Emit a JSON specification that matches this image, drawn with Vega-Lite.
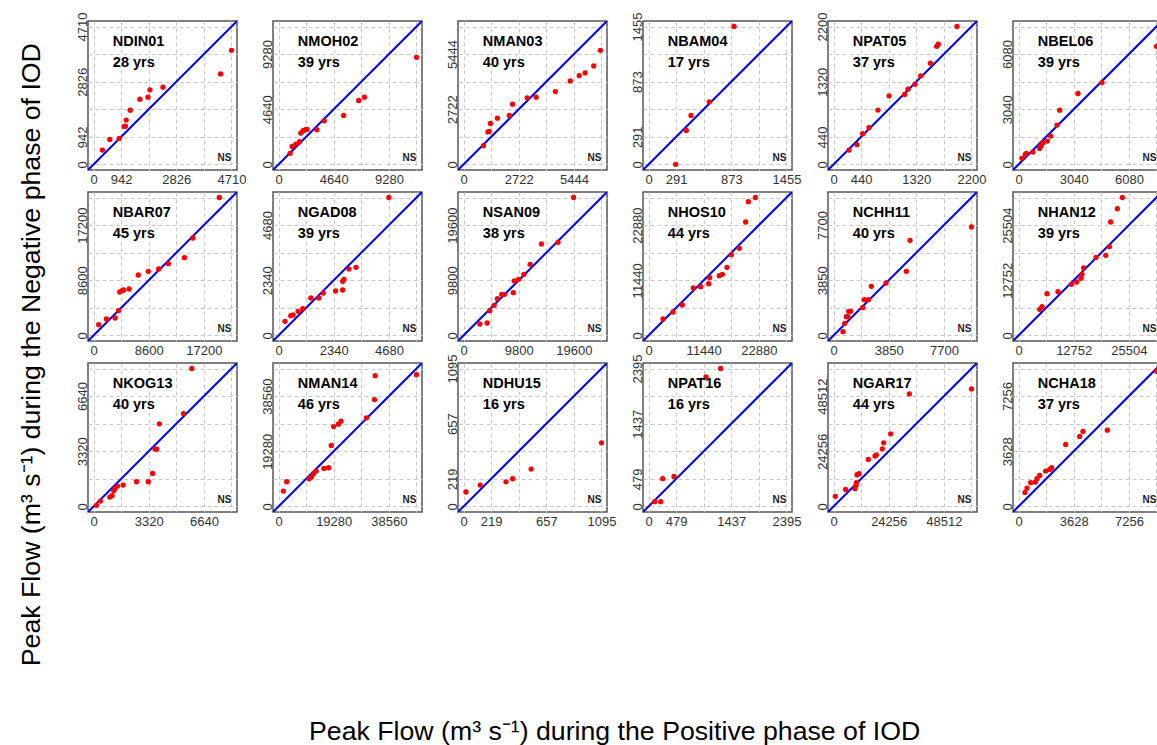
{
  "$schema": "https://vega.github.io/schema/vega-lite/v6.json",
  "padding": {"left": 18, "top": 11, "right": 0, "bottom": 0},
  "background": "white",
  "config": {
    "font": "Liberation Sans",
    "view": {"stroke": "#555555", "strokeWidth": 1.5},
    "axis": {
      "domain": false, "ticks": false,
      "gridColor": "#c8c8c8", "gridDash": [4, 3], "gridWidth": 1,
      "labelFont": "Liberation Sans", "labelFontSize": 13, "labelColor": "#333333",
      "labelPadding": 3, "labelFlush": false, "labelOverlap": false, "labelBound": false,
      "format": "d", "title": null
    },
    "axisY": {"labelAngle": -90, "labelAlign": "center", "labelBaseline": "alphabetic", "labelPadding": 2},
    "title": {"font": "Liberation Sans", "fontWeight": "normal", "fontSize": 26.7, "color": "#000000"}
  },
  "datasets": {
    "NDIN01": [{"pos":304,"neg":493},{"pos":555,"neg":856},{"pos":875,"neg":890},{"pos":1046,"neg":1299},{"pos":1090,"neg":1305},{"pos":1115,"neg":1515},{"pos":1252,"neg":1855},{"pos":1583,"neg":2230},{"pos":1858,"neg":2298},{"pos":1926,"neg":2548},{"pos":2372,"neg":2639},{"pos":4338,"neg":3093},{"pos":4710,"neg":3899}],
    "NMOH02": [{"pos":972,"neg":934},{"pos":1141,"neg":1521},{"pos":1450,"neg":1717},{"pos":1760,"neg":1913},{"pos":1872,"neg":2640},{"pos":2070,"neg":2835},{"pos":2267,"neg":2919},{"pos":2407,"neg":2947},{"pos":3224,"neg":2919},{"pos":3843,"neg":3674},{"pos":5476,"neg":4121},{"pos":6742,"neg":5380},{"pos":7221,"neg":5659},{"pos":11600,"neg":9014}],
    "NMAN03": [{"pos":985,"neg":925},{"pos":1198,"neg":1598},{"pos":1263,"neg":1630},{"pos":1328,"neg":2024},{"pos":1671,"neg":2286},{"pos":2259,"neg":2418},{"pos":2422,"neg":2975},{"pos":3141,"neg":3287},{"pos":3582,"neg":3320},{"pos":4529,"neg":3598},{"pos":5264,"neg":4123},{"pos":5705,"neg":4386},{"pos":5999,"neg":4517},{"pos":6423,"neg":4861},{"pos":6750,"neg":5632}],
    "NBAM04": [{"pos":286,"neg":2},{"pos":399,"neg":359},{"pos":448,"neg":517},{"pos":641,"neg":661},{"pos":902,"neg":1455}],
    "NPAT05": [{"pos":247,"neg":230},{"pos":374,"neg":315},{"pos":465,"neg":490},{"pos":566,"neg":586},{"pos":709,"neg":867},{"pos":885,"neg":1095},{"pos":1134,"neg":1116},{"pos":1188,"neg":1201},{"pos":1299,"neg":1280},{"pos":1390,"neg":1413},{"pos":1544,"neg":1615},{"pos":1645,"neg":1885},{"pos":1671,"neg":1917},{"pos":1969,"neg":2200}],
    "NBEL06": [{"pos":192,"neg":337},{"pos":375,"neg":557},{"pos":430,"neg":612},{"pos":798,"neg":685},{"pos":1165,"neg":887},{"pos":1202,"neg":978},{"pos":1275,"neg":1107},{"pos":1348,"neg":1217},{"pos":1587,"neg":1290},{"pos":1771,"neg":1565},{"pos":2120,"neg":2169},{"pos":2266,"neg":2994},{"pos":3276,"neg":3910},{"pos":4598,"neg":4514},{"pos":7600,"neg":6511}],
    "NBAR07": [{"pos":810,"neg":1686},{"pos":2010,"neg":2569},{"pos":3367,"neg":2725},{"pos":3888,"neg":3867},{"pos":4097,"neg":6777},{"pos":4515,"neg":7036},{"pos":4724,"neg":7088},{"pos":5558,"neg":7244},{"pos":6967,"neg":9426},{"pos":8532,"neg":9998},{"pos":10150,"neg":10361},{"pos":11663,"neg":11192},{"pos":14168,"neg":12128},{"pos":15472,"neg":15193},{"pos":19595,"neg":21500}],
    "NGAD08": [{"pos":277,"neg":600},{"pos":519,"neg":840},{"pos":618,"neg":868},{"pos":831,"neg":1024},{"pos":1030,"neg":1137},{"pos":1371,"neg":1589},{"pos":1711,"neg":1589},{"pos":1896,"neg":1801},{"pos":2421,"neg":1886},{"pos":2720,"neg":1928},{"pos":2720,"neg":2295},{"pos":2776,"neg":2380},{"pos":2989,"neg":2818},{"pos":3288,"neg":2889},{"pos":4679,"neg":5850}],
    "NSAN09": [{"pos":2901,"neg":2039},{"pos":4194,"neg":2216},{"pos":4665,"neg":4406},{"pos":5429,"neg":5353},{"pos":6017,"neg":6537},{"pos":6782,"neg":7307},{"pos":7252,"neg":7307},{"pos":8840,"neg":7603},{"pos":9016,"neg":9674},{"pos":9780,"neg":9970},{"pos":10721,"neg":10858},{"pos":11838,"neg":12634},{"pos":13838,"neg":16244},{"pos":16778,"neg":16540},{"pos":19541,"neg":24500}],
    "NHOS10": [{"pos":3002,"neg":3417},{"pos":5075,"neg":4868},{"pos":7010,"neg":6319},{"pos":9290,"neg":9843},{"pos":10810,"neg":10119},{"pos":12469,"neg":10741},{"pos":12676,"neg":11985},{"pos":14680,"neg":12400},{"pos":15302,"neg":12676},{"pos":16269,"neg":14127},{"pos":17168,"neg":16753},{"pos":18826,"neg":18066},{"pos":20139,"neg":23525},{"pos":20692,"neg":27740},{"pos":22143,"neg":28600}],
    "NCHH11": [{"pos":662,"neg":266},{"pos":778,"neg":848},{"pos":894,"neg":1313},{"pos":1011,"neg":1313},{"pos":1057,"neg":1685},{"pos":1197,"neg":1685},{"pos":2034,"neg":1941},{"pos":2150,"neg":2499},{"pos":2429,"neg":2499},{"pos":2639,"neg":3430},{"pos":3662,"neg":3662},{"pos":5081,"neg":4476},{"pos":5337,"neg":6640},{"pos":9625,"neg":7570}],
    "NHAN12": [{"pos":4887,"neg":6043},{"pos":5427,"neg":6659},{"pos":6582,"neg":9663},{"pos":9124,"neg":10125},{"pos":12205,"neg":11820},{"pos":13438,"neg":12359},{"pos":14439,"neg":13207},{"pos":14670,"neg":14131},{"pos":15055,"neg":15595},{"pos":17905,"neg":18060},{"pos":20139,"neg":18522},{"pos":20987,"neg":20524},{"pos":21295,"neg":26225},{"pos":22835,"neg":29306},{"pos":23991,"neg":31880}],
    "NKOG13": [{"pos":172,"neg":68},{"pos":413,"neg":328},{"pos":977,"neg":568},{"pos":1118,"neg":648},{"pos":1219,"neg":949},{"pos":1279,"neg":1069},{"pos":1440,"neg":1229},{"pos":1783,"neg":1289},{"pos":2588,"neg":1489},{"pos":3293,"neg":1489},{"pos":3555,"neg":1989},{"pos":3696,"neg":3470},{"pos":3797,"neg":3450},{"pos":3958,"neg":4971},{"pos":5408,"neg":5591},{"pos":5911,"neg":8300}],
    "NMAN14": [{"pos":1698,"neg":5393},{"pos":2868,"neg":8646},{"pos":10706,"neg":9692},{"pos":11525,"neg":10273},{"pos":12227,"neg":11435},{"pos":13162,"neg":12365},{"pos":15853,"neg":13294},{"pos":17491,"neg":13527},{"pos":18427,"neg":21312},{"pos":19245,"neg":27935},{"pos":20883,"neg":28749},{"pos":21819,"neg":29795},{"pos":30709,"neg":30957},{"pos":33517,"neg":37348},{"pos":33751,"neg":45714},{"pos":48200,"neg":46063}],
    "NDHU15": [{"pos":19,"neg":115},{"pos":132,"neg":170},{"pos":337,"neg":196},{"pos":390,"neg":220},{"pos":537,"neg":297},{"pos":1095,"neg":505}],
    "NPAT16": [{"pos":107,"neg":83},{"pos":211,"neg":83},{"pos":246,"neg":482},{"pos":442,"neg":522},{"pos":998,"neg":2248},{"pos":1252,"neg":2395}],
    "NGAR17": [{"pos":797,"neg":4445},{"pos":5339,"neg":7516},{"pos":9441,"neg":7808},{"pos":9900,"neg":9200},{"pos":10027,"neg":10440},{"pos":10320,"neg":13948},{"pos":11199,"neg":14387},{"pos":15301,"neg":20674},{"pos":18231,"neg":22136},{"pos":18817,"neg":22720},{"pos":21454,"neg":25352},{"pos":22040,"neg":27984},{"pos":25116,"neg":31931},{"pos":33320,"neg":49475},{"pos":60640,"neg":51668}],
    "NCHA18": [{"pos":426,"neg":927},{"pos":557,"neg":1212},{"pos":798,"neg":1562},{"pos":1105,"neg":1605},{"pos":1215,"neg":1824},{"pos":1390,"neg":2043},{"pos":1784,"neg":2327},{"pos":2047,"neg":2436},{"pos":2179,"neg":2546},{"pos":3099,"neg":4077},{"pos":4019,"neg":4601},{"pos":4238,"neg":4930},{"pos":5838,"neg":5017},{"pos":9070,"neg":8900}]
  },
  "title": {"text": "Peak Flow (m³ s⁻¹) during the Positive phase of IOD", "orient": "bottom", "anchor": "middle", "offset": 21, "dx": 24},
  "vconcat": [
    {
      "title": {"text": "Peak Flow (m³ s⁻¹) during the Negative phase of IOD", "orient": "left", "anchor": "middle", "offset": 30},
      "spacing": 0,
      "vconcat": [
        {
          "columns": 6,
          "spacing": {"row": 22, "column": 36},
          "bounds": "flush",
          "concat": [
            {"width":149,"height":149,"resolve":{"axis":{"x":"independent","y":"independent"}},"layer":[
              {"data":{"values":[{}]},"mark":{"type":"rule","color":"#0000FF","strokeWidth":2,"clip":true},"encoding":{"x":{"datum":-4710,"type":"quantitative","scale":{"domain":[-188.4,4898.4],"nice":false,"zero":false},"axis":{"orient":"bottom","grid":true,"labels":false,"values":[0,942,1884,2826,3768,4710]}},"y":{"datum":-4710,"type":"quantitative","scale":{"domain":[-188.4,4898.4],"nice":false,"zero":false},"axis":{"orient":"left","grid":true,"labels":false,"values":[0,942,1884,2826,3768,4710]}},"x2":{"datum":9420},"y2":{"datum":9420}}},
              {"data":{"name":"NDIN01"},"mark":{"type":"circle","color":"#FF0000","size":28,"opacity":1},"encoding":{"x":{"field":"pos","type":"quantitative","axis":{"orient":"bottom","grid":false,"values":[0,942,2826,4710]}},"y":{"field":"neg","type":"quantitative","axis":{"orient":"left","grid":false,"values":[0,942,2826,4710]}}}},
              {"data":{"values":[{}]},"mark":{"type":"text","align":"left","baseline":"middle","fontSize":14.5,"fontWeight":"bold","color":"#000000"},"encoding":{"x":{"datum":659.4,"axis":null},"y":{"datum":4191.9,"axis":null},"text":{"value":"NDIN01"}}},
              {"data":{"values":[{}]},"mark":{"type":"text","align":"left","baseline":"middle","fontSize":14.5,"fontWeight":"bold","color":"#000000"},"encoding":{"x":{"datum":659.4,"axis":null},"y":{"datum":3461.9,"axis":null},"text":{"value":"28 yrs"}}},
              {"data":{"values":[{}]},"mark":{"type":"text","align":"right","baseline":"middle","fontSize":10,"fontWeight":"bold","color":"#222222"},"encoding":{"x":{"datum":4710,"axis":null},"y":{"datum":207.2,"axis":null},"text":{"value":"NS"}}}
            ]},
            {"width":149,"height":149,"resolve":{"axis":{"x":"independent","y":"independent"}},"layer":[
              {"data":{"values":[{}]},"mark":{"type":"rule","color":"#0000FF","strokeWidth":2,"clip":true},"encoding":{"x":{"datum":-11600,"type":"quantitative","scale":{"domain":[-464,12064],"nice":false,"zero":false},"axis":{"orient":"bottom","grid":true,"labels":false,"values":[0,2320,4640,6960,9280,11600]}},"y":{"datum":-11600,"type":"quantitative","scale":{"domain":[-464,12064],"nice":false,"zero":false},"axis":{"orient":"left","grid":true,"labels":false,"values":[0,2320,4640,6960,9280,11600]}},"x2":{"datum":23200},"y2":{"datum":23200}}},
              {"data":{"name":"NMOH02"},"mark":{"type":"circle","color":"#FF0000","size":28,"opacity":1},"encoding":{"x":{"field":"pos","type":"quantitative","axis":{"orient":"bottom","grid":false,"values":[0,4640,9280]}},"y":{"field":"neg","type":"quantitative","axis":{"orient":"left","grid":false,"values":[0,4640,9280]}}}},
              {"data":{"values":[{}]},"mark":{"type":"text","align":"left","baseline":"middle","fontSize":14.5,"fontWeight":"bold","color":"#000000"},"encoding":{"x":{"datum":1624,"axis":null},"y":{"datum":10324,"axis":null},"text":{"value":"NMOH02"}}},
              {"data":{"values":[{}]},"mark":{"type":"text","align":"left","baseline":"middle","fontSize":14.5,"fontWeight":"bold","color":"#000000"},"encoding":{"x":{"datum":1624,"axis":null},"y":{"datum":8526,"axis":null},"text":{"value":"39 yrs"}}},
              {"data":{"values":[{}]},"mark":{"type":"text","align":"right","baseline":"middle","fontSize":10,"fontWeight":"bold","color":"#222222"},"encoding":{"x":{"datum":11600,"axis":null},"y":{"datum":510.4,"axis":null},"text":{"value":"NS"}}}
            ]},
            {"width":149,"height":149,"resolve":{"axis":{"x":"independent","y":"independent"}},"layer":[
              {"data":{"values":[{}]},"mark":{"type":"rule","color":"#0000FF","strokeWidth":2,"clip":true},"encoding":{"x":{"datum":-6805,"type":"quantitative","scale":{"domain":[-272.2,7077.2],"nice":false,"zero":false},"axis":{"orient":"bottom","grid":true,"labels":false,"values":[0,1361,2722,4083,5444,6805]}},"y":{"datum":-6805,"type":"quantitative","scale":{"domain":[-272.2,7077.2],"nice":false,"zero":false},"axis":{"orient":"left","grid":true,"labels":false,"values":[0,1361,2722,4083,5444,6805]}},"x2":{"datum":13610},"y2":{"datum":13610}}},
              {"data":{"name":"NMAN03"},"mark":{"type":"circle","color":"#FF0000","size":28,"opacity":1},"encoding":{"x":{"field":"pos","type":"quantitative","axis":{"orient":"bottom","grid":false,"values":[0,2722,5444]}},"y":{"field":"neg","type":"quantitative","axis":{"orient":"left","grid":false,"values":[0,2722,5444]}}}},
              {"data":{"values":[{}]},"mark":{"type":"text","align":"left","baseline":"middle","fontSize":14.5,"fontWeight":"bold","color":"#000000"},"encoding":{"x":{"datum":952.7,"axis":null},"y":{"datum":6056.5,"axis":null},"text":{"value":"NMAN03"}}},
              {"data":{"values":[{}]},"mark":{"type":"text","align":"left","baseline":"middle","fontSize":14.5,"fontWeight":"bold","color":"#000000"},"encoding":{"x":{"datum":952.7,"axis":null},"y":{"datum":5001.7,"axis":null},"text":{"value":"40 yrs"}}},
              {"data":{"values":[{}]},"mark":{"type":"text","align":"right","baseline":"middle","fontSize":10,"fontWeight":"bold","color":"#222222"},"encoding":{"x":{"datum":6805,"axis":null},"y":{"datum":299.4,"axis":null},"text":{"value":"NS"}}}
            ]},
            {"width":149,"height":149,"resolve":{"axis":{"x":"independent","y":"independent"}},"layer":[
              {"data":{"values":[{}]},"mark":{"type":"rule","color":"#0000FF","strokeWidth":2,"clip":true},"encoding":{"x":{"datum":-1455,"type":"quantitative","scale":{"domain":[-58.2,1513.2],"nice":false,"zero":false},"axis":{"orient":"bottom","grid":true,"labels":false,"values":[0,291,582,873,1164,1455]}},"y":{"datum":-1455,"type":"quantitative","scale":{"domain":[-58.2,1513.2],"nice":false,"zero":false},"axis":{"orient":"left","grid":true,"labels":false,"values":[0,291,582,873,1164,1455]}},"x2":{"datum":2910},"y2":{"datum":2910}}},
              {"data":{"name":"NBAM04"},"mark":{"type":"circle","color":"#FF0000","size":28,"opacity":1},"encoding":{"x":{"field":"pos","type":"quantitative","axis":{"orient":"bottom","grid":false,"values":[0,291,873,1455]}},"y":{"field":"neg","type":"quantitative","axis":{"orient":"left","grid":false,"values":[0,291,873,1455]}}}},
              {"data":{"values":[{}]},"mark":{"type":"text","align":"left","baseline":"middle","fontSize":14.5,"fontWeight":"bold","color":"#000000"},"encoding":{"x":{"datum":203.7,"axis":null},"y":{"datum":1295,"axis":null},"text":{"value":"NBAM04"}}},
              {"data":{"values":[{}]},"mark":{"type":"text","align":"left","baseline":"middle","fontSize":14.5,"fontWeight":"bold","color":"#000000"},"encoding":{"x":{"datum":203.7,"axis":null},"y":{"datum":1069.4,"axis":null},"text":{"value":"17 yrs"}}},
              {"data":{"values":[{}]},"mark":{"type":"text","align":"right","baseline":"middle","fontSize":10,"fontWeight":"bold","color":"#222222"},"encoding":{"x":{"datum":1455,"axis":null},"y":{"datum":64,"axis":null},"text":{"value":"NS"}}}
            ]},
            {"width":149,"height":149,"resolve":{"axis":{"x":"independent","y":"independent"}},"layer":[
              {"data":{"values":[{}]},"mark":{"type":"rule","color":"#0000FF","strokeWidth":2,"clip":true},"encoding":{"x":{"datum":-2200,"type":"quantitative","scale":{"domain":[-88,2288],"nice":false,"zero":false},"axis":{"orient":"bottom","grid":true,"labels":false,"values":[0,440,880,1320,1760,2200]}},"y":{"datum":-2200,"type":"quantitative","scale":{"domain":[-88,2288],"nice":false,"zero":false},"axis":{"orient":"left","grid":true,"labels":false,"values":[0,440,880,1320,1760,2200]}},"x2":{"datum":4400},"y2":{"datum":4400}}},
              {"data":{"name":"NPAT05"},"mark":{"type":"circle","color":"#FF0000","size":28,"opacity":1},"encoding":{"x":{"field":"pos","type":"quantitative","axis":{"orient":"bottom","grid":false,"values":[0,440,1320,2200]}},"y":{"field":"neg","type":"quantitative","axis":{"orient":"left","grid":false,"values":[0,440,1320,2200]}}}},
              {"data":{"values":[{}]},"mark":{"type":"text","align":"left","baseline":"middle","fontSize":14.5,"fontWeight":"bold","color":"#000000"},"encoding":{"x":{"datum":308,"axis":null},"y":{"datum":1958,"axis":null},"text":{"value":"NPAT05"}}},
              {"data":{"values":[{}]},"mark":{"type":"text","align":"left","baseline":"middle","fontSize":14.5,"fontWeight":"bold","color":"#000000"},"encoding":{"x":{"datum":308,"axis":null},"y":{"datum":1617,"axis":null},"text":{"value":"37 yrs"}}},
              {"data":{"values":[{}]},"mark":{"type":"text","align":"right","baseline":"middle","fontSize":10,"fontWeight":"bold","color":"#222222"},"encoding":{"x":{"datum":2200,"axis":null},"y":{"datum":96.8,"axis":null},"text":{"value":"NS"}}}
            ]},
            {"width":149,"height":149,"resolve":{"axis":{"x":"independent","y":"independent"}},"layer":[
              {"data":{"values":[{}]},"mark":{"type":"rule","color":"#0000FF","strokeWidth":2,"clip":true},"encoding":{"x":{"datum":-7600,"type":"quantitative","scale":{"domain":[-304,7904],"nice":false,"zero":false},"axis":{"orient":"bottom","grid":true,"labels":false,"values":[0,1520,3040,4560,6080,7600]}},"y":{"datum":-7600,"type":"quantitative","scale":{"domain":[-304,7904],"nice":false,"zero":false},"axis":{"orient":"left","grid":true,"labels":false,"values":[0,1520,3040,4560,6080,7600]}},"x2":{"datum":15200},"y2":{"datum":15200}}},
              {"data":{"name":"NBEL06"},"mark":{"type":"circle","color":"#FF0000","size":28,"opacity":1},"encoding":{"x":{"field":"pos","type":"quantitative","axis":{"orient":"bottom","grid":false,"values":[0,3040,6080]}},"y":{"field":"neg","type":"quantitative","axis":{"orient":"left","grid":false,"values":[0,3040,6080]}}}},
              {"data":{"values":[{}]},"mark":{"type":"text","align":"left","baseline":"middle","fontSize":14.5,"fontWeight":"bold","color":"#000000"},"encoding":{"x":{"datum":1064,"axis":null},"y":{"datum":6764,"axis":null},"text":{"value":"NBEL06"}}},
              {"data":{"values":[{}]},"mark":{"type":"text","align":"left","baseline":"middle","fontSize":14.5,"fontWeight":"bold","color":"#000000"},"encoding":{"x":{"datum":1064,"axis":null},"y":{"datum":5586,"axis":null},"text":{"value":"39 yrs"}}},
              {"data":{"values":[{}]},"mark":{"type":"text","align":"right","baseline":"middle","fontSize":10,"fontWeight":"bold","color":"#222222"},"encoding":{"x":{"datum":7600,"axis":null},"y":{"datum":334.4,"axis":null},"text":{"value":"NS"}}}
            ]},
            {"width":149,"height":149,"resolve":{"axis":{"x":"independent","y":"independent"}},"layer":[
              {"data":{"values":[{}]},"mark":{"type":"rule","color":"#0000FF","strokeWidth":2,"clip":true},"encoding":{"x":{"datum":-21500,"type":"quantitative","scale":{"domain":[-860,22360],"nice":false,"zero":false},"axis":{"orient":"bottom","grid":true,"labels":false,"values":[0,4300,8600,12900,17200,21500]}},"y":{"datum":-21500,"type":"quantitative","scale":{"domain":[-860,22360],"nice":false,"zero":false},"axis":{"orient":"left","grid":true,"labels":false,"values":[0,4300,8600,12900,17200,21500]}},"x2":{"datum":43000},"y2":{"datum":43000}}},
              {"data":{"name":"NBAR07"},"mark":{"type":"circle","color":"#FF0000","size":28,"opacity":1},"encoding":{"x":{"field":"pos","type":"quantitative","axis":{"orient":"bottom","grid":false,"values":[0,8600,17200]}},"y":{"field":"neg","type":"quantitative","axis":{"orient":"left","grid":false,"values":[0,8600,17200]}}}},
              {"data":{"values":[{}]},"mark":{"type":"text","align":"left","baseline":"middle","fontSize":14.5,"fontWeight":"bold","color":"#000000"},"encoding":{"x":{"datum":3010,"axis":null},"y":{"datum":19135,"axis":null},"text":{"value":"NBAR07"}}},
              {"data":{"values":[{}]},"mark":{"type":"text","align":"left","baseline":"middle","fontSize":14.5,"fontWeight":"bold","color":"#000000"},"encoding":{"x":{"datum":3010,"axis":null},"y":{"datum":15802,"axis":null},"text":{"value":"45 yrs"}}},
              {"data":{"values":[{}]},"mark":{"type":"text","align":"right","baseline":"middle","fontSize":10,"fontWeight":"bold","color":"#222222"},"encoding":{"x":{"datum":21500,"axis":null},"y":{"datum":946,"axis":null},"text":{"value":"NS"}}}
            ]},
            {"width":149,"height":149,"resolve":{"axis":{"x":"independent","y":"independent"}},"layer":[
              {"data":{"values":[{}]},"mark":{"type":"rule","color":"#0000FF","strokeWidth":2,"clip":true},"encoding":{"x":{"datum":-5850,"type":"quantitative","scale":{"domain":[-234,6084],"nice":false,"zero":false},"axis":{"orient":"bottom","grid":true,"labels":false,"values":[0,1170,2340,3510,4680,5850]}},"y":{"datum":-5850,"type":"quantitative","scale":{"domain":[-234,6084],"nice":false,"zero":false},"axis":{"orient":"left","grid":true,"labels":false,"values":[0,1170,2340,3510,4680,5850]}},"x2":{"datum":11700},"y2":{"datum":11700}}},
              {"data":{"name":"NGAD08"},"mark":{"type":"circle","color":"#FF0000","size":28,"opacity":1},"encoding":{"x":{"field":"pos","type":"quantitative","axis":{"orient":"bottom","grid":false,"values":[0,2340,4680]}},"y":{"field":"neg","type":"quantitative","axis":{"orient":"left","grid":false,"values":[0,2340,4680]}}}},
              {"data":{"values":[{}]},"mark":{"type":"text","align":"left","baseline":"middle","fontSize":14.5,"fontWeight":"bold","color":"#000000"},"encoding":{"x":{"datum":819,"axis":null},"y":{"datum":5206.5,"axis":null},"text":{"value":"NGAD08"}}},
              {"data":{"values":[{}]},"mark":{"type":"text","align":"left","baseline":"middle","fontSize":14.5,"fontWeight":"bold","color":"#000000"},"encoding":{"x":{"datum":819,"axis":null},"y":{"datum":4299.7,"axis":null},"text":{"value":"39 yrs"}}},
              {"data":{"values":[{}]},"mark":{"type":"text","align":"right","baseline":"middle","fontSize":10,"fontWeight":"bold","color":"#222222"},"encoding":{"x":{"datum":5850,"axis":null},"y":{"datum":257.4,"axis":null},"text":{"value":"NS"}}}
            ]},
            {"width":149,"height":149,"resolve":{"axis":{"x":"independent","y":"independent"}},"layer":[
              {"data":{"values":[{}]},"mark":{"type":"rule","color":"#0000FF","strokeWidth":2,"clip":true},"encoding":{"x":{"datum":-24500,"type":"quantitative","scale":{"domain":[-980,25480],"nice":false,"zero":false},"axis":{"orient":"bottom","grid":true,"labels":false,"values":[0,4900,9800,14700,19600,24500]}},"y":{"datum":-24500,"type":"quantitative","scale":{"domain":[-980,25480],"nice":false,"zero":false},"axis":{"orient":"left","grid":true,"labels":false,"values":[0,4900,9800,14700,19600,24500]}},"x2":{"datum":49000},"y2":{"datum":49000}}},
              {"data":{"name":"NSAN09"},"mark":{"type":"circle","color":"#FF0000","size":28,"opacity":1},"encoding":{"x":{"field":"pos","type":"quantitative","axis":{"orient":"bottom","grid":false,"values":[0,9800,19600]}},"y":{"field":"neg","type":"quantitative","axis":{"orient":"left","grid":false,"values":[0,9800,19600]}}}},
              {"data":{"values":[{}]},"mark":{"type":"text","align":"left","baseline":"middle","fontSize":14.5,"fontWeight":"bold","color":"#000000"},"encoding":{"x":{"datum":3430,"axis":null},"y":{"datum":21805,"axis":null},"text":{"value":"NSAN09"}}},
              {"data":{"values":[{}]},"mark":{"type":"text","align":"left","baseline":"middle","fontSize":14.5,"fontWeight":"bold","color":"#000000"},"encoding":{"x":{"datum":3430,"axis":null},"y":{"datum":18007,"axis":null},"text":{"value":"38 yrs"}}},
              {"data":{"values":[{}]},"mark":{"type":"text","align":"right","baseline":"middle","fontSize":10,"fontWeight":"bold","color":"#222222"},"encoding":{"x":{"datum":24500,"axis":null},"y":{"datum":1078,"axis":null},"text":{"value":"NS"}}}
            ]},
            {"width":149,"height":149,"resolve":{"axis":{"x":"independent","y":"independent"}},"layer":[
              {"data":{"values":[{}]},"mark":{"type":"rule","color":"#0000FF","strokeWidth":2,"clip":true},"encoding":{"x":{"datum":-28600,"type":"quantitative","scale":{"domain":[-1144,29744],"nice":false,"zero":false},"axis":{"orient":"bottom","grid":true,"labels":false,"values":[0,5720,11440,17160,22880,28600]}},"y":{"datum":-28600,"type":"quantitative","scale":{"domain":[-1144,29744],"nice":false,"zero":false},"axis":{"orient":"left","grid":true,"labels":false,"values":[0,5720,11440,17160,22880,28600]}},"x2":{"datum":57200},"y2":{"datum":57200}}},
              {"data":{"name":"NHOS10"},"mark":{"type":"circle","color":"#FF0000","size":28,"opacity":1},"encoding":{"x":{"field":"pos","type":"quantitative","axis":{"orient":"bottom","grid":false,"values":[0,11440,22880]}},"y":{"field":"neg","type":"quantitative","axis":{"orient":"left","grid":false,"values":[0,11440,22880]}}}},
              {"data":{"values":[{}]},"mark":{"type":"text","align":"left","baseline":"middle","fontSize":14.5,"fontWeight":"bold","color":"#000000"},"encoding":{"x":{"datum":4004,"axis":null},"y":{"datum":25454,"axis":null},"text":{"value":"NHOS10"}}},
              {"data":{"values":[{}]},"mark":{"type":"text","align":"left","baseline":"middle","fontSize":14.5,"fontWeight":"bold","color":"#000000"},"encoding":{"x":{"datum":4004,"axis":null},"y":{"datum":21021,"axis":null},"text":{"value":"44 yrs"}}},
              {"data":{"values":[{}]},"mark":{"type":"text","align":"right","baseline":"middle","fontSize":10,"fontWeight":"bold","color":"#222222"},"encoding":{"x":{"datum":28600,"axis":null},"y":{"datum":1258.4,"axis":null},"text":{"value":"NS"}}}
            ]},
            {"width":149,"height":149,"resolve":{"axis":{"x":"independent","y":"independent"}},"layer":[
              {"data":{"values":[{}]},"mark":{"type":"rule","color":"#0000FF","strokeWidth":2,"clip":true},"encoding":{"x":{"datum":-9625,"type":"quantitative","scale":{"domain":[-385,10010],"nice":false,"zero":false},"axis":{"orient":"bottom","grid":true,"labels":false,"values":[0,1925,3850,5775,7700,9625]}},"y":{"datum":-9625,"type":"quantitative","scale":{"domain":[-385,10010],"nice":false,"zero":false},"axis":{"orient":"left","grid":true,"labels":false,"values":[0,1925,3850,5775,7700,9625]}},"x2":{"datum":19250},"y2":{"datum":19250}}},
              {"data":{"name":"NCHH11"},"mark":{"type":"circle","color":"#FF0000","size":28,"opacity":1},"encoding":{"x":{"field":"pos","type":"quantitative","axis":{"orient":"bottom","grid":false,"values":[0,3850,7700]}},"y":{"field":"neg","type":"quantitative","axis":{"orient":"left","grid":false,"values":[0,3850,7700]}}}},
              {"data":{"values":[{}]},"mark":{"type":"text","align":"left","baseline":"middle","fontSize":14.5,"fontWeight":"bold","color":"#000000"},"encoding":{"x":{"datum":1347.5,"axis":null},"y":{"datum":8566.2,"axis":null},"text":{"value":"NCHH11"}}},
              {"data":{"values":[{}]},"mark":{"type":"text","align":"left","baseline":"middle","fontSize":14.5,"fontWeight":"bold","color":"#000000"},"encoding":{"x":{"datum":1347.5,"axis":null},"y":{"datum":7074.4,"axis":null},"text":{"value":"40 yrs"}}},
              {"data":{"values":[{}]},"mark":{"type":"text","align":"right","baseline":"middle","fontSize":10,"fontWeight":"bold","color":"#222222"},"encoding":{"x":{"datum":9625,"axis":null},"y":{"datum":423.5,"axis":null},"text":{"value":"NS"}}}
            ]},
            {"width":149,"height":149,"resolve":{"axis":{"x":"independent","y":"independent"}},"layer":[
              {"data":{"values":[{}]},"mark":{"type":"rule","color":"#0000FF","strokeWidth":2,"clip":true},"encoding":{"x":{"datum":-31880,"type":"quantitative","scale":{"domain":[-1275.2,33155.2],"nice":false,"zero":false},"axis":{"orient":"bottom","grid":true,"labels":false,"values":[0,6376,12752,19128,25504,31880]}},"y":{"datum":-31880,"type":"quantitative","scale":{"domain":[-1275.2,33155.2],"nice":false,"zero":false},"axis":{"orient":"left","grid":true,"labels":false,"values":[0,6376,12752,19128,25504,31880]}},"x2":{"datum":63760},"y2":{"datum":63760}}},
              {"data":{"name":"NHAN12"},"mark":{"type":"circle","color":"#FF0000","size":28,"opacity":1},"encoding":{"x":{"field":"pos","type":"quantitative","axis":{"orient":"bottom","grid":false,"values":[0,12752,25504]}},"y":{"field":"neg","type":"quantitative","axis":{"orient":"left","grid":false,"values":[0,12752,25504]}}}},
              {"data":{"values":[{}]},"mark":{"type":"text","align":"left","baseline":"middle","fontSize":14.5,"fontWeight":"bold","color":"#000000"},"encoding":{"x":{"datum":4463.2,"axis":null},"y":{"datum":28373.2,"axis":null},"text":{"value":"NHAN12"}}},
              {"data":{"values":[{}]},"mark":{"type":"text","align":"left","baseline":"middle","fontSize":14.5,"fontWeight":"bold","color":"#000000"},"encoding":{"x":{"datum":4463.2,"axis":null},"y":{"datum":23431.8,"axis":null},"text":{"value":"39 yrs"}}},
              {"data":{"values":[{}]},"mark":{"type":"text","align":"right","baseline":"middle","fontSize":10,"fontWeight":"bold","color":"#222222"},"encoding":{"x":{"datum":31880,"axis":null},"y":{"datum":1402.7,"axis":null},"text":{"value":"NS"}}}
            ]},
            {"width":149,"height":149,"resolve":{"axis":{"x":"independent","y":"independent"}},"layer":[
              {"data":{"values":[{}]},"mark":{"type":"rule","color":"#0000FF","strokeWidth":2,"clip":true},"encoding":{"x":{"datum":-8300,"type":"quantitative","scale":{"domain":[-332,8632],"nice":false,"zero":false},"axis":{"orient":"bottom","grid":true,"labels":false,"values":[0,1660,3320,4980,6640,8300]}},"y":{"datum":-8300,"type":"quantitative","scale":{"domain":[-332,8632],"nice":false,"zero":false},"axis":{"orient":"left","grid":true,"labels":false,"values":[0,1660,3320,4980,6640,8300]}},"x2":{"datum":16600},"y2":{"datum":16600}}},
              {"data":{"name":"NKOG13"},"mark":{"type":"circle","color":"#FF0000","size":28,"opacity":1},"encoding":{"x":{"field":"pos","type":"quantitative","axis":{"orient":"bottom","grid":false,"values":[0,3320,6640]}},"y":{"field":"neg","type":"quantitative","axis":{"orient":"left","grid":false,"values":[0,3320,6640]}}}},
              {"data":{"values":[{}]},"mark":{"type":"text","align":"left","baseline":"middle","fontSize":14.5,"fontWeight":"bold","color":"#000000"},"encoding":{"x":{"datum":1162,"axis":null},"y":{"datum":7387,"axis":null},"text":{"value":"NKOG13"}}},
              {"data":{"values":[{}]},"mark":{"type":"text","align":"left","baseline":"middle","fontSize":14.5,"fontWeight":"bold","color":"#000000"},"encoding":{"x":{"datum":1162,"axis":null},"y":{"datum":6100.5,"axis":null},"text":{"value":"40 yrs"}}},
              {"data":{"values":[{}]},"mark":{"type":"text","align":"right","baseline":"middle","fontSize":10,"fontWeight":"bold","color":"#222222"},"encoding":{"x":{"datum":8300,"axis":null},"y":{"datum":365.2,"axis":null},"text":{"value":"NS"}}}
            ]},
            {"width":149,"height":149,"resolve":{"axis":{"x":"independent","y":"independent"}},"layer":[
              {"data":{"values":[{}]},"mark":{"type":"rule","color":"#0000FF","strokeWidth":2,"clip":true},"encoding":{"x":{"datum":-48200,"type":"quantitative","scale":{"domain":[-1928,50128],"nice":false,"zero":false},"axis":{"orient":"bottom","grid":true,"labels":false,"values":[0,9640,19280,28920,38560,48200]}},"y":{"datum":-48200,"type":"quantitative","scale":{"domain":[-1928,50128],"nice":false,"zero":false},"axis":{"orient":"left","grid":true,"labels":false,"values":[0,9640,19280,28920,38560,48200]}},"x2":{"datum":96400},"y2":{"datum":96400}}},
              {"data":{"name":"NMAN14"},"mark":{"type":"circle","color":"#FF0000","size":28,"opacity":1},"encoding":{"x":{"field":"pos","type":"quantitative","axis":{"orient":"bottom","grid":false,"values":[0,19280,38560]}},"y":{"field":"neg","type":"quantitative","axis":{"orient":"left","grid":false,"values":[0,19280,38560]}}}},
              {"data":{"values":[{}]},"mark":{"type":"text","align":"left","baseline":"middle","fontSize":14.5,"fontWeight":"bold","color":"#000000"},"encoding":{"x":{"datum":6748,"axis":null},"y":{"datum":42898,"axis":null},"text":{"value":"NMAN14"}}},
              {"data":{"values":[{}]},"mark":{"type":"text","align":"left","baseline":"middle","fontSize":14.5,"fontWeight":"bold","color":"#000000"},"encoding":{"x":{"datum":6748,"axis":null},"y":{"datum":35427,"axis":null},"text":{"value":"46 yrs"}}},
              {"data":{"values":[{}]},"mark":{"type":"text","align":"right","baseline":"middle","fontSize":10,"fontWeight":"bold","color":"#222222"},"encoding":{"x":{"datum":48200,"axis":null},"y":{"datum":2120.8,"axis":null},"text":{"value":"NS"}}}
            ]},
            {"width":149,"height":149,"resolve":{"axis":{"x":"independent","y":"independent"}},"layer":[
              {"data":{"values":[{}]},"mark":{"type":"rule","color":"#0000FF","strokeWidth":2,"clip":true},"encoding":{"x":{"datum":-1095,"type":"quantitative","scale":{"domain":[-43.8,1138.8],"nice":false,"zero":false},"axis":{"orient":"bottom","grid":true,"labels":false,"values":[0,219,438,657,876,1095]}},"y":{"datum":-1095,"type":"quantitative","scale":{"domain":[-43.8,1138.8],"nice":false,"zero":false},"axis":{"orient":"left","grid":true,"labels":false,"values":[0,219,438,657,876,1095]}},"x2":{"datum":2190},"y2":{"datum":2190}}},
              {"data":{"name":"NDHU15"},"mark":{"type":"circle","color":"#FF0000","size":28,"opacity":1},"encoding":{"x":{"field":"pos","type":"quantitative","axis":{"orient":"bottom","grid":false,"values":[0,219,657,1095]}},"y":{"field":"neg","type":"quantitative","axis":{"orient":"left","grid":false,"values":[0,219,657,1095]}}}},
              {"data":{"values":[{}]},"mark":{"type":"text","align":"left","baseline":"middle","fontSize":14.5,"fontWeight":"bold","color":"#000000"},"encoding":{"x":{"datum":153.3,"axis":null},"y":{"datum":974.5,"axis":null},"text":{"value":"NDHU15"}}},
              {"data":{"values":[{}]},"mark":{"type":"text","align":"left","baseline":"middle","fontSize":14.5,"fontWeight":"bold","color":"#000000"},"encoding":{"x":{"datum":153.3,"axis":null},"y":{"datum":804.8,"axis":null},"text":{"value":"16 yrs"}}},
              {"data":{"values":[{}]},"mark":{"type":"text","align":"right","baseline":"middle","fontSize":10,"fontWeight":"bold","color":"#222222"},"encoding":{"x":{"datum":1095,"axis":null},"y":{"datum":48.2,"axis":null},"text":{"value":"NS"}}}
            ]},
            {"width":149,"height":149,"resolve":{"axis":{"x":"independent","y":"independent"}},"layer":[
              {"data":{"values":[{}]},"mark":{"type":"rule","color":"#0000FF","strokeWidth":2,"clip":true},"encoding":{"x":{"datum":-2395,"type":"quantitative","scale":{"domain":[-95.8,2490.8],"nice":false,"zero":false},"axis":{"orient":"bottom","grid":true,"labels":false,"values":[0,479,958,1437,1916,2395]}},"y":{"datum":-2395,"type":"quantitative","scale":{"domain":[-95.8,2490.8],"nice":false,"zero":false},"axis":{"orient":"left","grid":true,"labels":false,"values":[0,479,958,1437,1916,2395]}},"x2":{"datum":4790},"y2":{"datum":4790}}},
              {"data":{"name":"NPAT16"},"mark":{"type":"circle","color":"#FF0000","size":28,"opacity":1},"encoding":{"x":{"field":"pos","type":"quantitative","axis":{"orient":"bottom","grid":false,"values":[0,479,1437,2395]}},"y":{"field":"neg","type":"quantitative","axis":{"orient":"left","grid":false,"values":[0,479,1437,2395]}}}},
              {"data":{"values":[{}]},"mark":{"type":"text","align":"left","baseline":"middle","fontSize":14.5,"fontWeight":"bold","color":"#000000"},"encoding":{"x":{"datum":335.3,"axis":null},"y":{"datum":2131.5,"axis":null},"text":{"value":"NPAT16"}}},
              {"data":{"values":[{}]},"mark":{"type":"text","align":"left","baseline":"middle","fontSize":14.5,"fontWeight":"bold","color":"#000000"},"encoding":{"x":{"datum":335.3,"axis":null},"y":{"datum":1760.3,"axis":null},"text":{"value":"16 yrs"}}},
              {"data":{"values":[{}]},"mark":{"type":"text","align":"right","baseline":"middle","fontSize":10,"fontWeight":"bold","color":"#222222"},"encoding":{"x":{"datum":2395,"axis":null},"y":{"datum":105.4,"axis":null},"text":{"value":"NS"}}}
            ]},
            {"width":149,"height":149,"resolve":{"axis":{"x":"independent","y":"independent"}},"layer":[
              {"data":{"values":[{}]},"mark":{"type":"rule","color":"#0000FF","strokeWidth":2,"clip":true},"encoding":{"x":{"datum":-60640,"type":"quantitative","scale":{"domain":[-2425.6,63065.6],"nice":false,"zero":false},"axis":{"orient":"bottom","grid":true,"labels":false,"values":[0,12128,24256,36384,48512,60640]}},"y":{"datum":-60640,"type":"quantitative","scale":{"domain":[-2425.6,63065.6],"nice":false,"zero":false},"axis":{"orient":"left","grid":true,"labels":false,"values":[0,12128,24256,36384,48512,60640]}},"x2":{"datum":121280},"y2":{"datum":121280}}},
              {"data":{"name":"NGAR17"},"mark":{"type":"circle","color":"#FF0000","size":28,"opacity":1},"encoding":{"x":{"field":"pos","type":"quantitative","axis":{"orient":"bottom","grid":false,"values":[0,24256,48512]}},"y":{"field":"neg","type":"quantitative","axis":{"orient":"left","grid":false,"values":[0,24256,48512]}}}},
              {"data":{"values":[{}]},"mark":{"type":"text","align":"left","baseline":"middle","fontSize":14.5,"fontWeight":"bold","color":"#000000"},"encoding":{"x":{"datum":8489.6,"axis":null},"y":{"datum":53969.6,"axis":null},"text":{"value":"NGAR17"}}},
              {"data":{"values":[{}]},"mark":{"type":"text","align":"left","baseline":"middle","fontSize":14.5,"fontWeight":"bold","color":"#000000"},"encoding":{"x":{"datum":8489.6,"axis":null},"y":{"datum":44570.4,"axis":null},"text":{"value":"44 yrs"}}},
              {"data":{"values":[{}]},"mark":{"type":"text","align":"right","baseline":"middle","fontSize":10,"fontWeight":"bold","color":"#222222"},"encoding":{"x":{"datum":60640,"axis":null},"y":{"datum":2668.2,"axis":null},"text":{"value":"NS"}}}
            ]},
            {"width":149,"height":149,"resolve":{"axis":{"x":"independent","y":"independent"}},"layer":[
              {"data":{"values":[{}]},"mark":{"type":"rule","color":"#0000FF","strokeWidth":2,"clip":true},"encoding":{"x":{"datum":-9070,"type":"quantitative","scale":{"domain":[-362.8,9432.8],"nice":false,"zero":false},"axis":{"orient":"bottom","grid":true,"labels":false,"values":[0,1814,3628,5442,7256,9070]}},"y":{"datum":-9070,"type":"quantitative","scale":{"domain":[-362.8,9432.8],"nice":false,"zero":false},"axis":{"orient":"left","grid":true,"labels":false,"values":[0,1814,3628,5442,7256,9070]}},"x2":{"datum":18140},"y2":{"datum":18140}}},
              {"data":{"name":"NCHA18"},"mark":{"type":"circle","color":"#FF0000","size":28,"opacity":1},"encoding":{"x":{"field":"pos","type":"quantitative","axis":{"orient":"bottom","grid":false,"values":[0,3628,7256]}},"y":{"field":"neg","type":"quantitative","axis":{"orient":"left","grid":false,"values":[0,3628,7256]}}}},
              {"data":{"values":[{}]},"mark":{"type":"text","align":"left","baseline":"middle","fontSize":14.5,"fontWeight":"bold","color":"#000000"},"encoding":{"x":{"datum":1269.8,"axis":null},"y":{"datum":8072.3,"axis":null},"text":{"value":"NCHA18"}}},
              {"data":{"values":[{}]},"mark":{"type":"text","align":"left","baseline":"middle","fontSize":14.5,"fontWeight":"bold","color":"#000000"},"encoding":{"x":{"datum":1269.8,"axis":null},"y":{"datum":6666.4,"axis":null},"text":{"value":"37 yrs"}}},
              {"data":{"values":[{}]},"mark":{"type":"text","align":"right","baseline":"middle","fontSize":10,"fontWeight":"bold","color":"#222222"},"encoding":{"x":{"datum":9070,"axis":null},"y":{"datum":399.1,"axis":null},"text":{"value":"NS"}}}
            ]}
          ]
        },
        {"width": 1074, "height": 169, "data": {"values": [{}]}, "mark": {"type": "point", "opacity": 0}, "encoding": {}, "view": {"stroke": null}}
      ]
    }
  ]
}
